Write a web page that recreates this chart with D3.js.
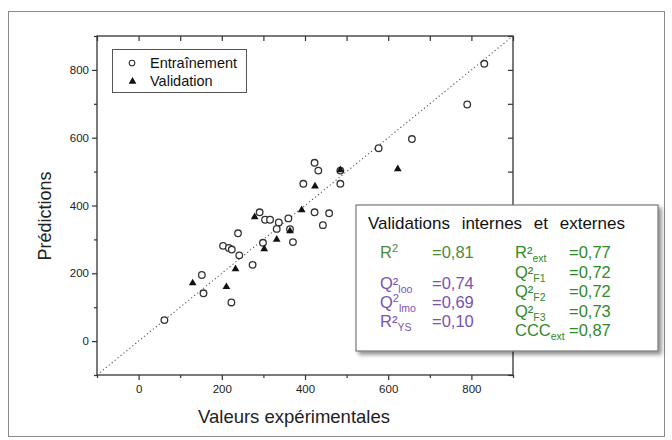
<!DOCTYPE html>
<html>
<head>
<meta charset="utf-8">
<script src="https://cdn.jsdelivr.net/npm/d3@7"></script>
<style>
  body { margin: 0; background: #fff; }
  svg { font-family: "Liberation Sans", Arial, sans-serif; }
</style>
</head>
<body>
<script>
// training set (open circles)
var trainX = [62, 156, 152, 223, 274, 203, 217, 224, 242, 239, 291, 304, 316, 337, 360, 332, 364, 299, 371,
              423, 458, 443, 396, 423, 432, 485, 485, 577, 657, 790, 831];
var trainY = [62, 141, 195, 114, 225, 281, 275, 270, 253, 318, 380, 358, 358, 350, 362, 331, 330, 290, 292,
              380, 377, 342, 464, 526, 503, 503, 464, 569, 596, 698, 818];
// validation set (filled triangles)
var validX = [130, 211, 233, 279, 302, 332, 364, 392, 424, 485, 623];
var validY = [171, 160, 213, 366, 272, 300, 325, 387, 457, 505, 508];

var majorTicks = [0, 200, 400, 600, 800];
var minorTicks = [-100, 100, 300, 500, 700, 900];
var legendLabels = ["Entraînement", "Validation"];

// stats box
var boxTitle = "Validations internes et externes";
var internLabels = ["R", "Q²", "Q", "R²"];
var internSups = ["2", "", "2", ""];
var internSubs = ["", "loo", "lmo", "YS"];
var internValues = ["=0,81", "=0,74", "=0,69", "=0,10"];
var externLabels = ["R²", "Q²", "Q²", "Q²", "CCC"];
var externSubs = ["ext", "F1", "F2", "F3", "ext"];
var externValues = ["=0,77", "=0,72", "=0,72", "=0,73", "=0,87"];

var W = 672, H = 440;
var svg = d3.select("body").append("svg").attr("width", W).attr("height", H);

var defs = svg.append("defs");
defs.append("filter").attr("id", "shadow").attr("x", "-10%").attr("y", "-10%").attr("width", "130%").attr("height", "130%")
  .append("feDropShadow").attr("dx", 3).attr("dy", 3).attr("stdDeviation", 2)
  .attr("flood-color", "#000").attr("flood-opacity", 0.45);

// outer figure frame
svg.append("rect").attr("x", 8.5).attr("y", 11.5).attr("width", 656).attr("height", 425)
  .attr("fill", "none").attr("stroke", "#8a8a8a").attr("stroke-width", 1);

var x = d3.scaleLinear().domain([-100, 900]).range([97, 513]);
var y = d3.scaleLinear().domain([-100, 900]).range([375, 36]);

function styleAxis(g) {
  g.select(".domain").remove();
  g.selectAll("line").attr("stroke", "#333").attr("stroke-width", 1.2);
  g.selectAll("text").attr("font-size", 11.5).attr("fill", "#222").attr("font-family", "Liberation Sans, Arial, sans-serif");
}

// bottom + left: outward ticks with labels
svg.append("g").attr("transform", "translate(0,375)")
  .call(d3.axisBottom(x).tickValues(majorTicks).tickSize(5).tickPadding(5).tickSizeOuter(0)).call(styleAxis);
svg.append("g").attr("transform", "translate(0,375)")
  .call(d3.axisBottom(x).tickValues(minorTicks).tickSize(3).tickFormat("").tickSizeOuter(0)).call(styleAxis);
svg.append("g").attr("transform", "translate(97,0)")
  .call(d3.axisLeft(y).tickValues(majorTicks).tickSize(5).tickPadding(3).tickSizeOuter(0)).call(styleAxis);
svg.append("g").attr("transform", "translate(97,0)")
  .call(d3.axisLeft(y).tickValues(minorTicks).tickSize(3).tickFormat("").tickSizeOuter(0)).call(styleAxis);
// top + right: inward ticks, no labels
svg.append("g").attr("transform", "translate(0,36)")
  .call(d3.axisTop(x).tickValues(majorTicks.concat(minorTicks)).tickSize(-5).tickFormat("").tickSizeOuter(0)).call(styleAxis);
svg.append("g").attr("transform", "translate(513,0)")
  .call(d3.axisRight(y).tickValues(majorTicks.concat(minorTicks)).tickSize(-5).tickFormat("").tickSizeOuter(0)).call(styleAxis);

// plot frame
svg.append("rect").attr("x", 97).attr("y", 36).attr("width", 416).attr("height", 339)
  .attr("fill", "none").attr("stroke", "#333").attr("stroke-width", 1.3);

// y = x reference line
svg.append("line")
  .attr("x1", x(-100)).attr("y1", y(-100)).attr("x2", x(900)).attr("y2", y(900))
  .attr("stroke", "#555").attr("stroke-width", 1.1).attr("stroke-dasharray", "1.2,2.6");

svg.append("g").selectAll("circle").data(d3.range(trainX.length)).enter().append("circle")
  .attr("cx", function (i) { return x(trainX[i]); })
  .attr("cy", function (i) { return y(trainY[i]); })
  .attr("r", 3.3).attr("fill", "#fff").attr("stroke", "#333").attr("stroke-width", 1.3);

var tri = d3.symbol().type(d3.symbolTriangle).size(26);
svg.append("g").selectAll("path").data(d3.range(validX.length)).enter().append("path")
  .attr("d", tri)
  .attr("transform", function (i) { return "translate(" + x(validX[i]) + "," + y(validY[i]) + ")"; })
  .attr("fill", "#111");

// axis titles
svg.append("text").attr("x", 294).attr("y", 423).attr("text-anchor", "middle")
  .attr("font-size", 18.5).attr("fill", "#222").text("Valeurs expérimentales");
svg.append("text").attr("transform", "translate(51,216) rotate(-90)").attr("text-anchor", "middle")
  .attr("font-size", 18).attr("fill", "#222").text("Prédictions");

// legend
var leg = svg.append("g");
leg.append("rect").attr("x", 112.5).attr("y", 49.5).attr("width", 134).attr("height", 43)
  .attr("fill", "#fff").attr("stroke", "#555").attr("stroke-width", 1);
leg.append("circle").attr("cx", 132).attr("cy", 63).attr("r", 2.8)
  .attr("fill", "#fff").attr("stroke", "#333").attr("stroke-width", 1.1);
leg.append("path").attr("d", tri).attr("transform", "translate(132.5,81.5)").attr("fill", "#111");
leg.selectAll("text").data(legendLabels).enter().append("text")
  .attr("x", 150).attr("y", function (d, i) { return 67.5 + i * 18.5; })
  .attr("font-size", 14.5).attr("fill", "#111").text(function (d) { return d; });

// stats box
var box = svg.append("g");
box.append("rect").attr("x", 356).attr("y", 205).attr("width", 302).attr("height", 146)
  .attr("fill", "#fff").attr("stroke", "#777").attr("stroke-width", 1.2).attr("filter", "url(#shadow)");
box.append("text").attr("x", 368).attr("y", 229).attr("font-size", 17).attr("fill", "#111")
  .attr("word-spacing", 7).text(boxTitle);

var green1 = "#4e8a3a", green2 = "#2f8a2a", purple = "#7a52b3";
var internY = [258, 288.5, 307.5, 327];
internLabels.forEach(function (lab, i) {
  var c = i === 0 ? green1 : purple;
  var t = box.append("text").attr("x", 380).attr("y", internY[i]).attr("font-size", 16.5).attr("fill", c);
  t.append("tspan").text(lab);
  if (internSups[i]) t.append("tspan").attr("font-size", 11).attr("dy", -6).text(internSups[i]);
  if (internSubs[i]) t.append("tspan").attr("font-size", 10.5).attr("dy", internSups[i] ? 10 : 4).text(internSubs[i]);
  box.append("text").attr("x", 432).attr("y", internY[i]).attr("font-size", 16.5).attr("fill", c).text(internValues[i]);
});
var externY = [258, 277.5, 297, 316.5, 336];
externLabels.forEach(function (lab, i) {
  var t = box.append("text").attr("x", 515).attr("y", externY[i]).attr("font-size", 16.5).attr("fill", green2);
  t.append("tspan").text(lab);
  t.append("tspan").attr("font-size", 10.5).attr("dy", 4).text(externSubs[i]);
  box.append("text").attr("x", 569).attr("y", externY[i]).attr("font-size", 16.5).attr("fill", green2).text(externValues[i]);
});
</script>
</body>
</html>
